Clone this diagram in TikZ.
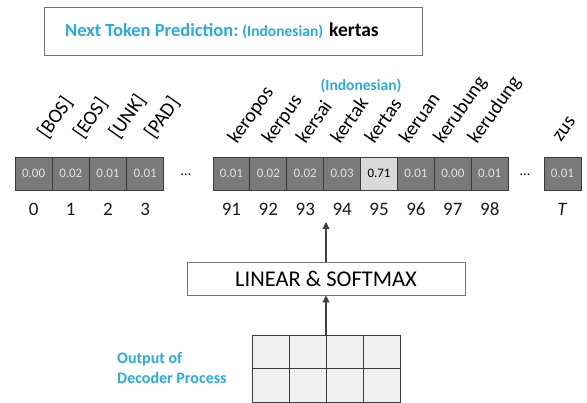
\documentclass[tikz,border=0pt]{standalone}
\usepackage{fontspec}
\setmainfont{Carlito}
\usetikzlibrary{arrows.meta,shadows}
\definecolor{tokblue}{HTML}{29ABE2}
\definecolor{cellgray}{HTML}{7A7A7A}
\definecolor{cellline}{HTML}{3A3A3A}
\definecolor{celltext}{HTML}{E2E2E2}
\definecolor{hotcell}{HTML}{D9D9D9}
\definecolor{gridfill}{HTML}{F0F0F0}
\begin{document}
\begin{tikzpicture}[x=1pt,y=-1pt,
  probcell/.style={draw=cellline,line width=0.9pt,fill=cellgray,minimum width=36.9pt,
    minimum height=33pt,inner sep=0pt,text=celltext,font=\fontsize{13}{13}\selectfont},
  hotprob/.style={probcell,fill=hotcell,text=black},
  toklabel/.style={rotate=55,anchor=base west,inner sep=0pt,font=\fontsize{20}{20}\selectfont},
  idxlabel/.style={font=\fontsize{19}{19}\selectfont,inner sep=0pt,text=black!90},
  dots/.style={font=\fontsize{14}{14}\selectfont,inner sep=0pt},
  flow/.style={draw=black!75,line width=1.1pt,-{Triangle[width=7pt,length=7pt]}},
  gridcell/.style={draw=cellline,line width=0.9pt,fill=gridfill,minimum width=37pt,
    minimum height=33.5pt,inner sep=0pt}]
\useasboundingbox (0,0) rectangle (587,403);

% prediction banner
\node[draw=black!55,line width=0.9pt,fill=white,minimum width=378pt,minimum height=48pt,
  drop shadow={shadow xshift=1pt,shadow yshift=-1pt,opacity=0.35}] (predbox) at (233,31) {};
\node[anchor=base west,inner sep=0pt] (predtext) at (65,37)
  {\fontsize{18.5}{18.5}\selectfont\bfseries\textcolor{tokblue}{Next Token Prediction:}\hspace{4pt}%
   \fontsize{15.5}{15.5}\selectfont\textcolor{tokblue}{(Indonesian)}\hspace{6pt}%
   \fontsize{19.5}{19.5}\selectfont kertas};

% special tokens 0..3
\foreach \i/\v/\t in {0/0.00/[BOS],1/0.02/[EOS],2/0.01/[UNK],3/0.01/[PAD]}{
  \node[probcell,minimum width=37.2pt] (c\i) at ({15+18.6+\i*37.2},173.5) {\v};
  \node[toklabel] (w\i) at ({47+\i*35.7},140) {\t};
  \node[idxlabel] (n\i) at ({15+18.6+\i*37.2},209) {\i};
}
\node[dots] (dotsA) at (186,175) {...};

% vocabulary entries 91..98
\foreach \i/\v/\t [count=\k from 0] in {91/0.01/keropos,92/0.02/kerpus,93/0.02/kersai,
    94/0.03/kertak,95/0.71/kertas,96/0.01/keruan,97/0.00/kerubung,98/0.01/kerudung}{
  \ifnum\i=95
    \node[hotprob] (c\i) at ({213+18.45+\k*36.9},173.5) {\v};
  \else
    \node[probcell] (c\i) at ({213+18.45+\k*36.9},173.5) {\v};
  \fi
  \node[toklabel] (w\i) at ({237+\k*34.3},145) {\t};
  \node[idxlabel] (n\i) at ({213+18.45+\k*36.9},209) {\i};
}
\node[font=\fontsize{15.5}{15.5}\selectfont\bfseries,text=tokblue,inner sep=0pt] (lang) at (361,86) {(Indonesian)};
\node[dots] (dotsB) at (525,175) {...};

% last vocabulary entry T
\node[probcell] (cT) at (562.5,173.5) {0.01};
\node[toklabel] (wT) at (561,143) {zus};
\node[idxlabel] (nT) at (562.5,209) {\textit{T}};

% projection layer
\node[draw=black!55,line width=0.9pt,minimum width=278pt,minimum height=33pt,inner sep=0pt,
  font=\fontsize{22.5}{22.5}\selectfont] (proj) at (326,278.5) {LINEAR \& SOFTMAX};
\coordinate (projout) at (326,222);
\draw[flow] (proj.north) -- (projout);

% decoder output grid
\foreach \r in {0,1}{
  \foreach \c in {0,1,2,3}{
    \node[gridcell] (g\r\c) at ({252+18.5+\c*37},{335+16.75+\r*33.5}) {};
  }
}
\coordinate (gridtop) at (326,335);
\draw[flow] (gridtop) -- (proj.south);
\node[align=left,anchor=west,inner sep=0pt,text=tokblue,font=\fontsize{16}{20}\selectfont\bfseries]
  (declabel) at (117,368) {Output of\\Decoder Process};
\end{tikzpicture}
\end{document}
